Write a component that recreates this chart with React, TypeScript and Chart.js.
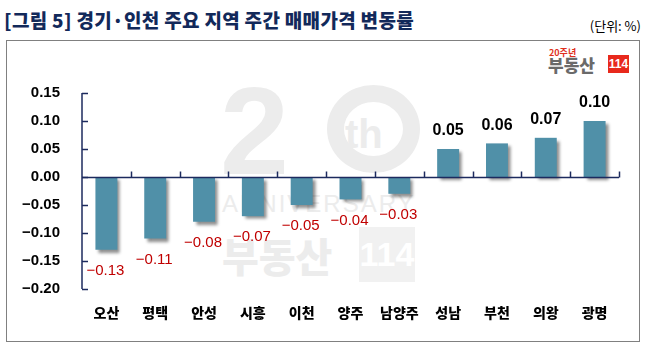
import React, { useEffect, useRef } from "react";
import { Chart, registerables } from "chart.js";

Chart.register(...registerables);

const categories = ["오산", "평택", "안성", "시흥", "이천", "양주", "남양주", "성남", "부천", "의왕", "광명"];
const values = [-0.13, -0.11, -0.08, -0.07, -0.05, -0.04, -0.03, 0.05, 0.06, 0.07, 0.1];
const yMin = -0.2;
const yMax = 0.15;
const yStep = 0.05;

const titleText = "[그림 5] 경기·인천 주요 지역 주간 매매가격 변동률";
const unitText = "(단위: %)";

const AXIS = "#1c2a5e";
const BAR = "rgb(80,144,168)";
const NUM_FONT = "'Liberation Sans', Arial, sans-serif";
const KR_FONT = "'Noto Sans CJK KR', 'Noto Sans', sans-serif";

const fmt = (v: number) => {
  const r = Math.round(v * 100) / 100;
  if (Math.abs(r) < 1e-9) return "0.00";
  return r < 0 ? "\u2212" + Math.abs(r).toFixed(2) : r.toFixed(2);
};

const decorPlugin = {
  id: "decor",
  beforeDatasetDraw(chart: any) {
    const ctx = chart.ctx;
    ctx.save();
    ctx.shadowColor = "rgba(0,0,0,0.45)";
    ctx.shadowOffsetX = 3;
    ctx.shadowOffsetY = 3;
    ctx.shadowBlur = 3;
  },
  afterDatasetDraw(chart: any) {
    chart.ctx.restore();
  },
  afterDatasetsDraw(chart: any) {
    const ctx = chart.ctx;
    const { left, right, top, bottom } = chart.chartArea;
    const ys = chart.scales.y;
    const xs = chart.scales.x;
    const y0 = ys.getPixelForValue(0);
    ctx.save();
    ctx.strokeStyle = AXIS;
    ctx.lineWidth = 1.5;
    ctx.beginPath();
    ctx.moveTo(left, top);
    ctx.lineTo(left, bottom);
    ctx.stroke();
    for (let k = 0; k <= Math.round((yMax - yMin) / yStep); k++) {
      const v = yMin + k * yStep;
      const py = Math.round(ys.getPixelForValue(v)) + 0.5;
      ctx.beginPath();
      ctx.moveTo(left, py);
      ctx.lineTo(left + 6, py);
      ctx.stroke();
    }
    const zy = Math.round(y0) + 0.5;
    ctx.beginPath();
    ctx.moveTo(left, zy);
    ctx.lineTo(right, zy);
    ctx.stroke();
    const n = categories.length;
    for (let i = 1; i <= n; i++) {
      let bx: number;
      if (i < n) bx = (xs.getPixelForValue(i - 1) + xs.getPixelForValue(i)) / 2;
      else bx = right;
      bx = Math.round(bx) + 0.5;
      ctx.beginPath();
      ctx.moveTo(bx, zy);
      ctx.lineTo(bx, zy - 6);
      ctx.stroke();
    }
    const meta = chart.getDatasetMeta(0);
    ctx.textAlign = "center";
    ctx.textBaseline = "middle";
    meta.data.forEach((el: any, i: number) => {
      const v = values[i];
      if (v < 0) {
        ctx.fillStyle = "#c00000";
        ctx.font = "15px " + NUM_FONT;
        ctx.fillText(fmt(v), el.x - 1, el.y + 21);
      } else {
        ctx.fillStyle = "#000";
        ctx.font = "bold 16px " + NUM_FONT;
        ctx.fillText(fmt(v), el.x, el.y - 18);
      }
    });
    ctx.restore();
  },
};

export default function App() {
  const ref = useRef<HTMLCanvasElement | null>(null);
  useEffect(() => {
    document.body.style.margin = "0";
    const chart = new Chart(ref.current as HTMLCanvasElement, {
      type: "bar",
      data: {
        labels: categories,
        datasets: [
          {
            data: values,
            backgroundColor: BAR,
            borderWidth: 0,
            barPercentage: 0.45,
            categoryPercentage: 1,
          },
        ],
      },
      options: {
        animation: false,
        responsive: false,
        devicePixelRatio: 1,
        layout: { padding: { left: 0, top: 93, right: 26, bottom: 0 } },
        plugins: { legend: { display: false }, tooltip: { enabled: false } },
        scales: {
          x: {
            grid: { display: false, drawTicks: false },
            border: { display: false },
            ticks: {
              padding: 15,
              color: "#000",
              font: { family: KR_FONT, size: 14, weight: "900" },
              maxRotation: 0,
              autoSkip: false,
            },
            afterFit: (s: any) => {
              s.height = 73;
            },
          },
          y: {
            min: yMin,
            max: yMax,
            grid: { display: false, drawTicks: false },
            border: { display: false },
            ticks: {
              stepSize: yStep,
              padding: 22,
              color: "#000",
              font: { family: NUM_FONT, size: 15, weight: "bold" },
              callback: (v: any) => fmt(Number(v)),
            },
            afterFit: (s: any) => {
              s.width = 82;
            },
          },
        },
      },
      plugins: [decorPlugin],
    } as any);
    return () => chart.destroy();
  }, []);

  const wm = "#ececec";
  return (
    <div style={{ position: "relative", width: 645, height: 362, background: "#fff", overflow: "hidden" }}>
      <div
        style={{
          position: "absolute",
          left: 4,
          top: 9,
          fontFamily: KR_FONT,
          fontWeight: 900,
          fontSize: 19,
          lineHeight: "22px",
          letterSpacing: 0.3,
          color: "#12295a",
          whiteSpace: "nowrap",
        }}
      >
        {titleText}
      </div>
      <div
        style={{
          position: "absolute",
          right: 4,
          top: 18,
          fontFamily: KR_FONT,
          fontSize: 13,
          lineHeight: "16px",
          color: "#000",
          whiteSpace: "nowrap",
        }}
      >
        {unitText}
      </div>
      <div
        style={{
          position: "absolute",
          left: 6,
          top: 40,
          width: 634,
          height: 302,
          border: "1px solid #808080",
          boxSizing: "border-box",
          background: "#fff",
        }}
      />
      <div
        style={{
          position: "absolute",
          left: 220,
          top: 69,
          fontFamily: NUM_FONT,
          fontWeight: 700,
          fontSize: 124,
          lineHeight: 1,
          color: wm,
        }}
      >
        2
      </div>
      <div
        style={{
          position: "absolute",
          left: 327,
          top: 85,
          width: 93,
          height: 88,
          borderRadius: "50%",
          border: `17px solid ${wm}`,
          boxSizing: "border-box",
        }}
      />
      <div
        style={{
          position: "absolute",
          left: 345,
          top: 114,
          fontFamily: NUM_FONT,
          fontWeight: 700,
          fontSize: 40,
          lineHeight: 1,
          color: wm,
        }}
      >
        th
      </div>
      <div
        style={{
          position: "absolute",
          left: 222,
          top: 192,
          fontFamily: NUM_FONT,
          fontSize: 24,
          lineHeight: 1,
          letterSpacing: 2,
          color: wm,
          whiteSpace: "nowrap",
        }}
      >
        ANNIVERSARY
      </div>
      <div
        style={{
          position: "absolute",
          left: 222,
          top: 232,
          fontFamily: KR_FONT,
          fontWeight: 900,
          fontSize: 40,
          lineHeight: "46px",
          color: wm,
          whiteSpace: "nowrap",
        }}
      >
        부동산
      </div>
      <div
        style={{
          position: "absolute",
          left: 359,
          top: 227,
          width: 56,
          height: 55,
          background: "#f1f1f1",
          color: "#fff",
          fontFamily: NUM_FONT,
          fontWeight: 700,
          fontSize: 34,
          lineHeight: "55px",
          textAlign: "center",
        }}
      >
        114
      </div>
      <div
        style={{
          position: "absolute",
          left: 549,
          top: 48,
          fontFamily: KR_FONT,
          fontWeight: 700,
          fontSize: 9,
          lineHeight: "10px",
          color: "#e0301e",
          whiteSpace: "nowrap",
        }}
      >
        20주년
      </div>
      <div
        style={{
          position: "absolute",
          left: 548,
          top: 56,
          fontFamily: KR_FONT,
          fontWeight: 900,
          fontSize: 17,
          lineHeight: "18px",
          color: "#6a6a6a",
          whiteSpace: "nowrap",
        }}
      >
        부동산
      </div>
      <div
        style={{
          position: "absolute",
          left: 608,
          top: 55,
          width: 21,
          height: 18,
          background: "#e8291c",
          color: "#fff",
          fontFamily: NUM_FONT,
          fontWeight: 700,
          fontSize: 12,
          lineHeight: "18px",
          textAlign: "center",
        }}
      >
        114
      </div>
      <canvas
        ref={ref}
        width={645}
        height={362}
        style={{ position: "absolute", left: 0, top: 0, width: 645, height: 362 }}
      />
    </div>
  );
}
